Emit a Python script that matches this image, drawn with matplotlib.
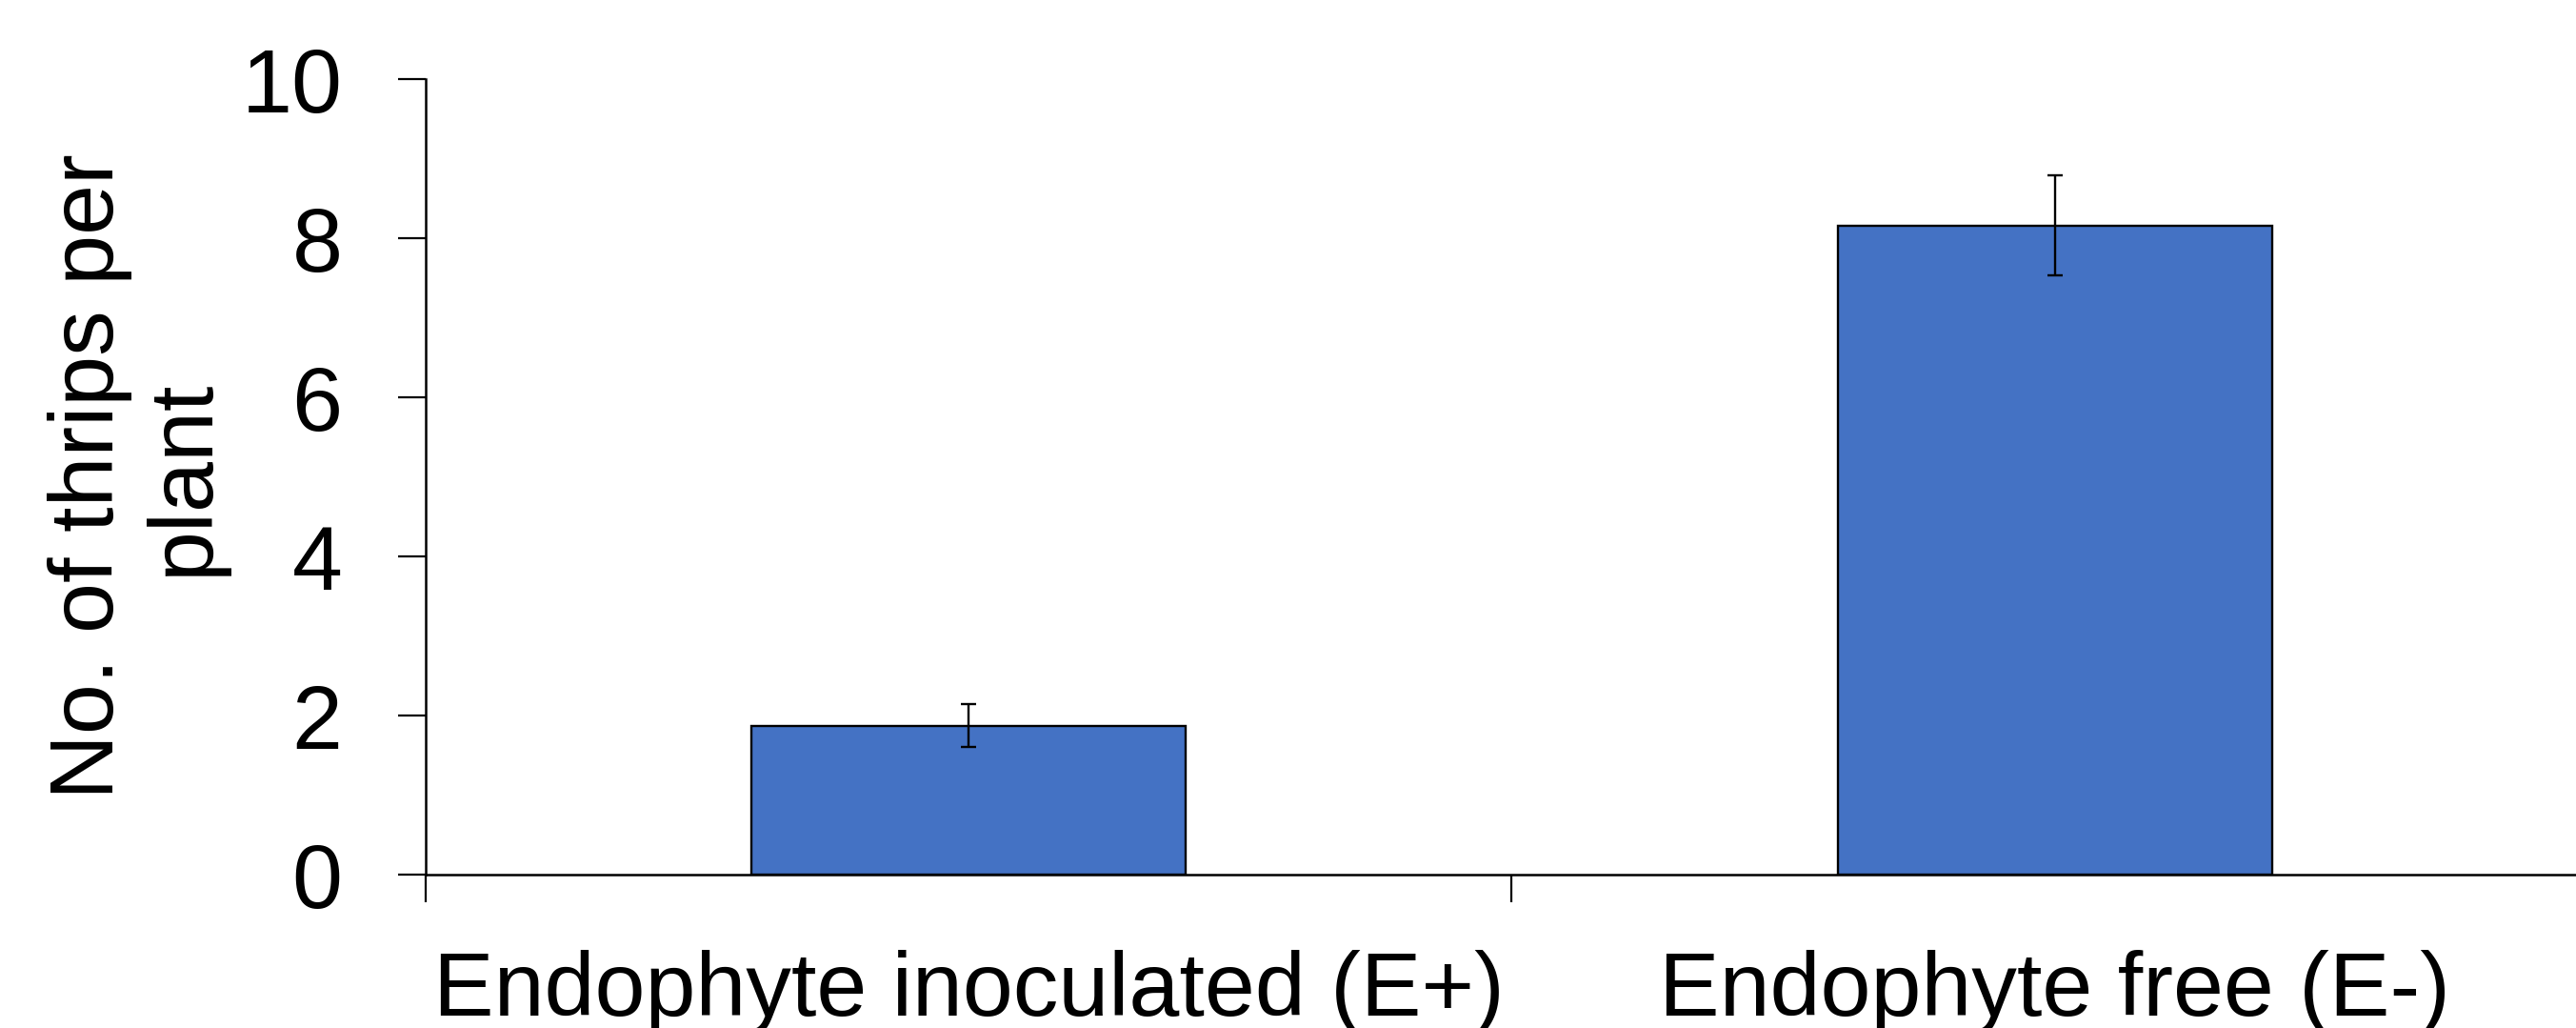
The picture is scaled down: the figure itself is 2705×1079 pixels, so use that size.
import matplotlib
matplotlib.use("Agg")
import matplotlib.pyplot as plt
import numpy as np

# Thrips counts per plant, mean and error
groups = ['Endophyte inoculated (E+)', 'Endophyte free (E-)']
thrips_mean = [1.87, 8.16]
thrips_err = [0.27, 0.63]
y_ticks = [0, 2, 4, 6, 8, 10]

plt.rcParams['font.family'] = ['Liberation Sans', 'DejaVu Sans']

fig = plt.figure(figsize=(27.05, 10.79), dpi=100)
fig.patch.set_facecolor('white')
ax = fig.add_axes([0.16525, 0.14921, 0.84325, 0.77386])

x = np.arange(len(groups))
ax.bar(x, thrips_mean, width=0.4, color='#4472C4', edgecolor='black', linewidth=1.7, zorder=2)
ax.errorbar(x, thrips_mean, yerr=thrips_err, fmt='none', ecolor='black',
            elinewidth=1.7, capsize=6, capthick=1.7, zorder=3)

ax.set_xlim(-0.5, 1.5)
ax.set_ylim(0, 10)
ax.set_yticks(y_ticks)
ax.set_yticklabels([str(t) for t in y_ticks])

# category labels in the middle, tick marks on the boundaries
ax.set_xticks(x)
ax.set_xticklabels(groups)
ax.set_xticks([-0.5, 0.5, 1.5], minor=True)
ax.tick_params(axis='x', which='major', length=0, pad=57, labelsize=68.6)
ax.tick_params(axis='x', which='minor', length=21, width=1.6, direction='out')
ax.tick_params(axis='y', which='major', length=21, width=1.6, direction='out', pad=42, labelsize=68.6)

for side in ['top', 'right']:
    ax.spines[side].set_visible(False)
ax.spines['left'].set_linewidth(1.8)
ax.spines['bottom'].set_linewidth(1.8)

ax.set_ylabel('No. of thrips per\nplant', fontsize=68.6, linespacing=1.15)
ax.yaxis.set_label_coords(-0.0915, 0.5)

fig.savefig('out.png', dpi=100, facecolor='white')
